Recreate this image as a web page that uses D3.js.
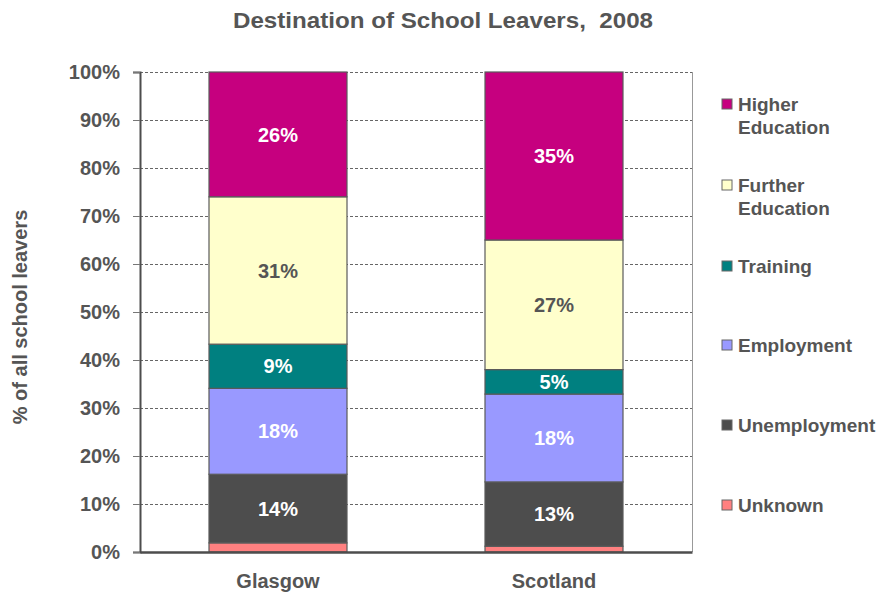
<!DOCTYPE html>
<html>
<head>
<meta charset="utf-8">
<script src="https://cdn.jsdelivr.net/npm/d3@7"></script>
<style>
  html, body { margin: 0; padding: 0; background: #fff; }
  svg { display: block; font-family: "Liberation Sans", Arial, sans-serif; }
</style>
</head>
<body>
<svg id="chart" width="876" height="595"></svg>
<script>
// Areas and destination categories (stacked bottom to top)
const areas = ["Glasgow", "Scotland"];
const destinations = ["Unknown", "Unemployment", "Employment", "Training", "Further Education", "Higher Education"];

// Share of school leavers (%) per destination, in the order of `destinations`
const glasgowShares = [1.9, 14.3, 17.9, 9.2, 30.7, 26.0];
const scotlandShares = [1.2, 13.4, 18.3, 5.1, 27.0, 35.0];

const yTicks = [0, 10, 20, 30, 40, 50, 60, 70, 80, 90, 100];

const fills = ["#FF8080", "#4D4D4D", "#9999FF", "#008080", "#FFFFCC", "#C6007F"];
const labelColors = [null, "#ffffff", "#ffffff", "#ffffff", "#555555", "#ffffff"];

const shares = { Glasgow: glasgowShares, Scotland: scotlandShares };

const svg = d3.select("#chart");
const textColor = "#555555";
const fontFamily = "Liberation Sans, Arial, sans-serif";
const margin = { left: 140, right: 184, top: 72, bottom: 43 };
const W = 876, H = 595;

const x = d3.scaleBand().domain(areas).range([margin.left, W - margin.right]).paddingInner(0.5).paddingOuter(0.25);
const y = d3.scaleLinear().domain([0, 100]).range([H - margin.bottom, margin.top]);

// Title
svg.append("text")
  .attr("x", 443).attr("y", 28)
  .attr("text-anchor", "middle")
  .attr("font-size", 22).attr("font-weight", "bold")
  .attr("fill", textColor)
  .attr("xml:space", "preserve")
  .attr("textLength", 420).attr("lengthAdjust", "spacingAndGlyphs")
  .text("Destination of School Leavers,  2008");

// Dashed gridlines
svg.append("g").selectAll("line")
  .data(yTicks.filter(d => d > 0))
  .join("line")
  .attr("x1", margin.left).attr("x2", W - margin.right)
  .attr("y1", d => y(d)).attr("y2", d => y(d))
  .attr("stroke", "#666").attr("stroke-width", 1)
  .attr("stroke-dasharray", "3,2")
  .attr("shape-rendering", "crispEdges");

// Right plot border
svg.append("line")
  .attr("x1", W - margin.right).attr("x2", W - margin.right)
  .attr("y1", y(100)).attr("y2", y(0))
  .attr("stroke", "#999").attr("stroke-width", 1)
  .attr("shape-rendering", "crispEdges");

// Stacked bars
const stackData = areas.map(a => {
  const o = { area: a };
  destinations.forEach((d, i) => { o[d] = shares[a][i]; });
  return o;
});
const series = d3.stack().keys(destinations)(stackData);

const layers = svg.append("g").selectAll("g")
  .data(series)
  .join("g")
  .attr("fill", (s, i) => fills[i]);

layers.selectAll("rect")
  .data(s => s.map(p => ({ p, key: s.key, index: s.index })))
  .join("rect")
  .attr("x", d => x(d.p.data.area))
  .attr("width", x.bandwidth())
  .attr("y", d => y(d.p[1]))
  .attr("height", d => y(d.p[0]) - y(d.p[1]))
  .attr("stroke", "#5a5a5a").attr("stroke-width", 1.2);

// Value labels
layers.selectAll("text")
  .data(s => labelColors[s.index] ? s.map(p => ({ p, index: s.index })) : [])
  .join("text")
  .attr("x", d => x(d.p.data.area) + x.bandwidth() / 2)
  .attr("y", d => (y(d.p[0]) + y(d.p[1])) / 2)
  .attr("dy", "0.36em")
  .attr("text-anchor", "middle")
  .attr("font-size", 20).attr("font-weight", "bold")
  .attr("fill", d => labelColors[d.index])
  .text(d => Math.round(d.p[1] - d.p[0]) + "%");

// Y axis
const yAxis = svg.append("g")
  .attr("transform", `translate(${margin.left},0)`)
  .call(d3.axisLeft(y).tickValues(yTicks).tickFormat(d => d + "%").tickSize(7).tickPadding(13));
yAxis.select(".domain").attr("stroke", "#4d4d4d").attr("stroke-width", 2);
yAxis.selectAll(".tick line").attr("stroke", "#777").attr("stroke-width", 1);
yAxis.selectAll("text")
  .attr("font-size", 20).attr("font-weight", "bold")
  .attr("fill", textColor).attr("font-family", fontFamily);

// X axis
const xAxis = svg.append("g")
  .attr("transform", `translate(0,${y(0)})`)
  .call(d3.axisBottom(x).tickSize(0).tickPadding(22));
xAxis.select(".domain").attr("stroke", "#4d4d4d").attr("stroke-width", 2.5);
xAxis.selectAll("text")
  .attr("font-size", 20).attr("font-weight", "bold")
  .attr("fill", textColor).attr("font-family", fontFamily);

// Y axis title
svg.append("text")
  .attr("transform", `translate(27,${(y(0) + y(100)) / 2 + 5}) rotate(-90)`)
  .attr("text-anchor", "middle")
  .attr("font-size", 20).attr("font-weight", "bold")
  .attr("fill", textColor)
  .text("% of all school leavers");

// Legend (top to bottom: Higher Education first)
const legendItems = destinations.map((d, i) => ({ name: d, fill: fills[i] })).reverse();
const legendLines = {
  "Higher Education": ["Higher", "Education"],
  "Further Education": ["Further", "Education"]
};
const legendY = [104, 185, 266, 345, 425, 505];

const legend = svg.append("g").selectAll("g")
  .data(legendItems)
  .join("g")
  .attr("transform", (d, i) => `translate(722,${legendY[i]})`);

legend.append("rect")
  .attr("x", 0).attr("y", -5).attr("width", 10).attr("height", 10)
  .attr("fill", d => d.fill).attr("stroke", "#666").attr("stroke-width", 1);

legend.append("text")
  .attr("x", 16).attr("y", 0)
  .attr("font-size", 19).attr("font-weight", "bold")
  .attr("fill", textColor)
  .selectAll("tspan")
  .data(d => legendLines[d.name] || [d.name])
  .join("tspan")
  .attr("x", 16)
  .attr("dy", (t, i) => i === 0 ? "0.36em" : "1.2em")
  .text(t => t);
</script>
</body>
</html>
